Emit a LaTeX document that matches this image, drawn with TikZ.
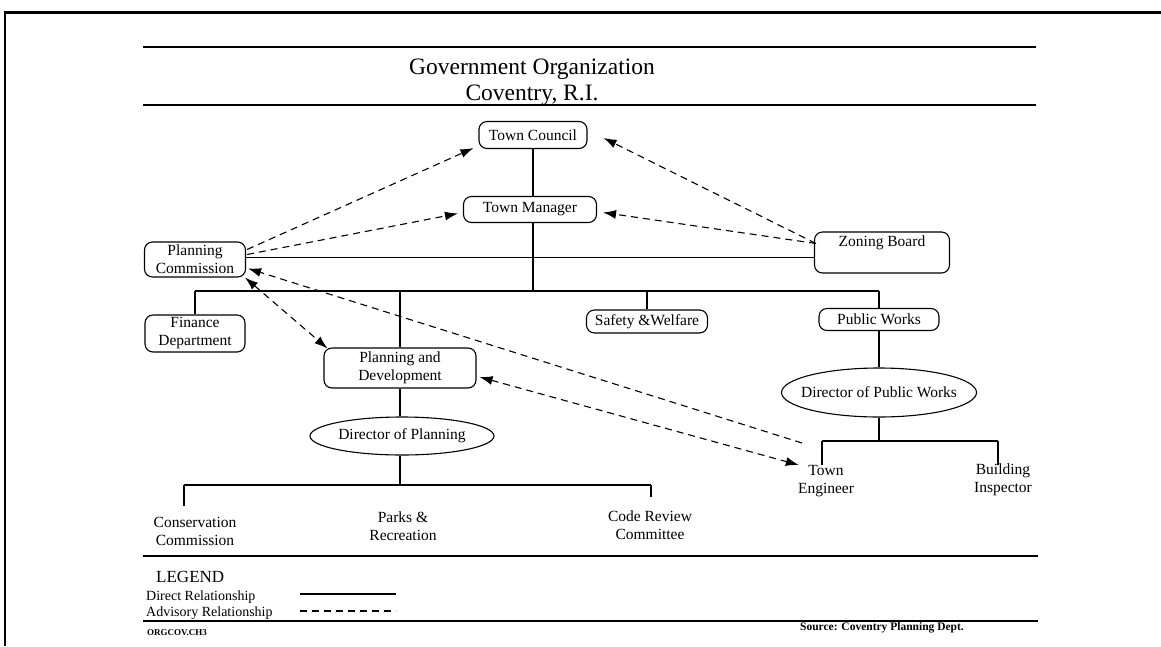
\documentclass[tikz,border=0pt]{standalone}
\usepackage{fontspec}
\setmainfont{Liberation Serif}
\usetikzlibrary{arrows.meta,shapes.geometric,calc}

\begin{document}
\begin{tikzpicture}[x=1pt,y=-1pt,
  every node/.style={font=\fontsize{15.5}{18}\selectfont, align=center, inner sep=2pt},
  line/.style={line width=1.2pt},
  rule/.style={line width=1.4pt},
  unit/.style={draw, line width=1.1pt, rounded corners=8pt, inner sep=0pt},
  oval/.style={draw, ellipse, line width=1.1pt, inner sep=0pt},
  adv/.style={line width=1.1pt, dash pattern=on 7pt off 5pt},
  tip/.style={-{Latex[length=13pt,width=9pt]}},
  tips/.style={{Latex[length=13pt,width=9pt]}-{Latex[length=13pt,width=9pt]}}
]
\useasboundingbox (0,0) rectangle (1161,646);

% page frame
\draw[line width=3pt] (1161,12) -- (4,12);
\draw[line width=2pt] (5,11) -- (5,646);

% title block
\draw[rule] (143,47) -- (1036,47);
\draw[rule] (143,105) -- (1036,105);
\node[font=\fontsize{23.5}{28}\selectfont] (t1) at (532,69) {Government Organization};
\node[font=\fontsize{23.5}{28}\selectfont] (t2) at (532,95) {Coventry, R.I.};

% offices
\node[unit, minimum width=108, minimum height=27] (tc) at (533,135) {Town Council};
\node[unit, minimum width=133, minimum height=26] (tm) at (530,209.5) {Town Manager};
\node[unit, minimum width=101, minimum height=35] (pc) at (195,259.5) {Planning\\Commission};
\node[unit, minimum width=135, minimum height=41, text height=12pt, text depth=25pt] (zb) at (882,252.5) {Zoning Board};
\node[unit, minimum width=100, minimum height=37] (fin) at (195,333.5) {Finance\\Department};
\node[unit, minimum width=152, minimum height=40] (pd) at (400,368) {Planning and\\Development};
\node[unit, minimum width=121, minimum height=23] (sw) at (647,321.5) {Safety \&Welfare};
\node[unit, minimum width=120, minimum height=22] (pw) at (879,319.5) {Public Works};
\node[oval, minimum width=195, minimum height=49] (dpw) at (879,392.5) {\makebox[130pt][c]{Director of Public Works}};
\node[oval, minimum width=184, minimum height=38] (dpl) at (402,436) {\makebox[120pt][c]{Director of Planning}};

\node (te) at (826,481) {Town\\Engineer};
\node (bi) at (1003,480) {Building\\Inspector};
\node (cc) at (195,531) {Conservation\\Commission};
\node (pr) at (403,526) {Parks \&\\Recreation};
\node (crc) at (650,525) {Code Review\\Committee};

% junction points of the direct lines
\coordinate (busL) at (195,291);
\coordinate (busR) at (879,291);
\coordinate (brL) at (184,485);
\coordinate (brR) at (651,485);
\coordinate (pwL) at (822,441);
\coordinate (pwR) at (998,441);

% direct relationships
\draw[line] (tc.south) -- (tc.south |- tm.north);
\draw[line] (tc.south |- tm.south) -- (tc.south |- busL);
\draw[line] ([yshift=2pt]pc.east) -- ([yshift=2pt]pc.east -| zb.west);
\draw[line] (busL) -- (busR);
\draw[line] (busL) -- (fin.north);
\draw[line] (pd.north |- busL) -- (pd.north);
\draw[line] (sw.north |- busL) -- (sw.north);
\draw[line] (busR) -- (pw.north);
\draw[line] (pw.south) -- (dpw.north);
\draw[line] (pd.south) -- (pd.south |- dpl.north);
\draw[line] (pd.south |- dpl.south) -- (pd.south |- brL);
\draw[line] (brL) -- (brR);
\draw[line] (brL) -- ++(0,21);
\draw[line] (brR) -- ++(0,12);
\draw[line] (dpw.south) -- (dpw.south |- pwL);
\draw[line] (pwL) -- (pwR);
\draw[line] (pwL) -- ++(0,24);
\draw[line] (pwR) -- ++(0,24);

% advisory relationships
\coordinate (zbin) at ($(zb.west)+(2,-9)$);
\coordinate (tein) at (802,443);
\draw[adv, tip] ($(pc.east)+(1,-10)$) -- ($(tc.south west)+(-5,-1)$);
\draw[adv, tip] ($(pc.east)+(1,-5)$) -- ($(tm.west)+(-5,4)$);
\draw[adv, tip] (zbin) -- ($(tc.east)+(16,3)$);
\draw[adv, tip] (zbin) -- ($(tm.east)+(6,3)$);
\draw[adv, tip] (tein) -- ($(pc.east)+(2,9)$);
\draw[adv, tips] ($(pd.east)+(3,9)$) -- ($(te.north west)+(3,2)$);
\draw[adv, tips] ($(pc.south east)+(-1,0)$) -- ($(pd.north west)+(4,1)$);

% legend
\draw[rule] (143,556) -- (1038,556);
\draw[rule] (143,621) -- (1038,621);
\node[anchor=west, font=\fontsize{17}{18}\selectfont] (leg) at (154,577) {LEGEND};
\node[anchor=west, font=\fontsize{14}{16}\selectfont] (ld) at (144,597) {Direct Relationship};
\node[anchor=west, font=\fontsize{14}{16}\selectfont] (la) at (144,613) {Advisory Relationship};
\draw[line] (300,594) -- (396,594);
\draw[adv] (300,611) -- (396,611);
\node[anchor=west, font=\bfseries\fontsize{9}{10}\selectfont] (code) at (145,633) {ORGCOV.CH3};
\node[font=\bfseries\fontsize{11.5}{12}\selectfont] (src) at (882,628) {Source: Coventry Planning Dept.};
\end{tikzpicture}
\end{document}
